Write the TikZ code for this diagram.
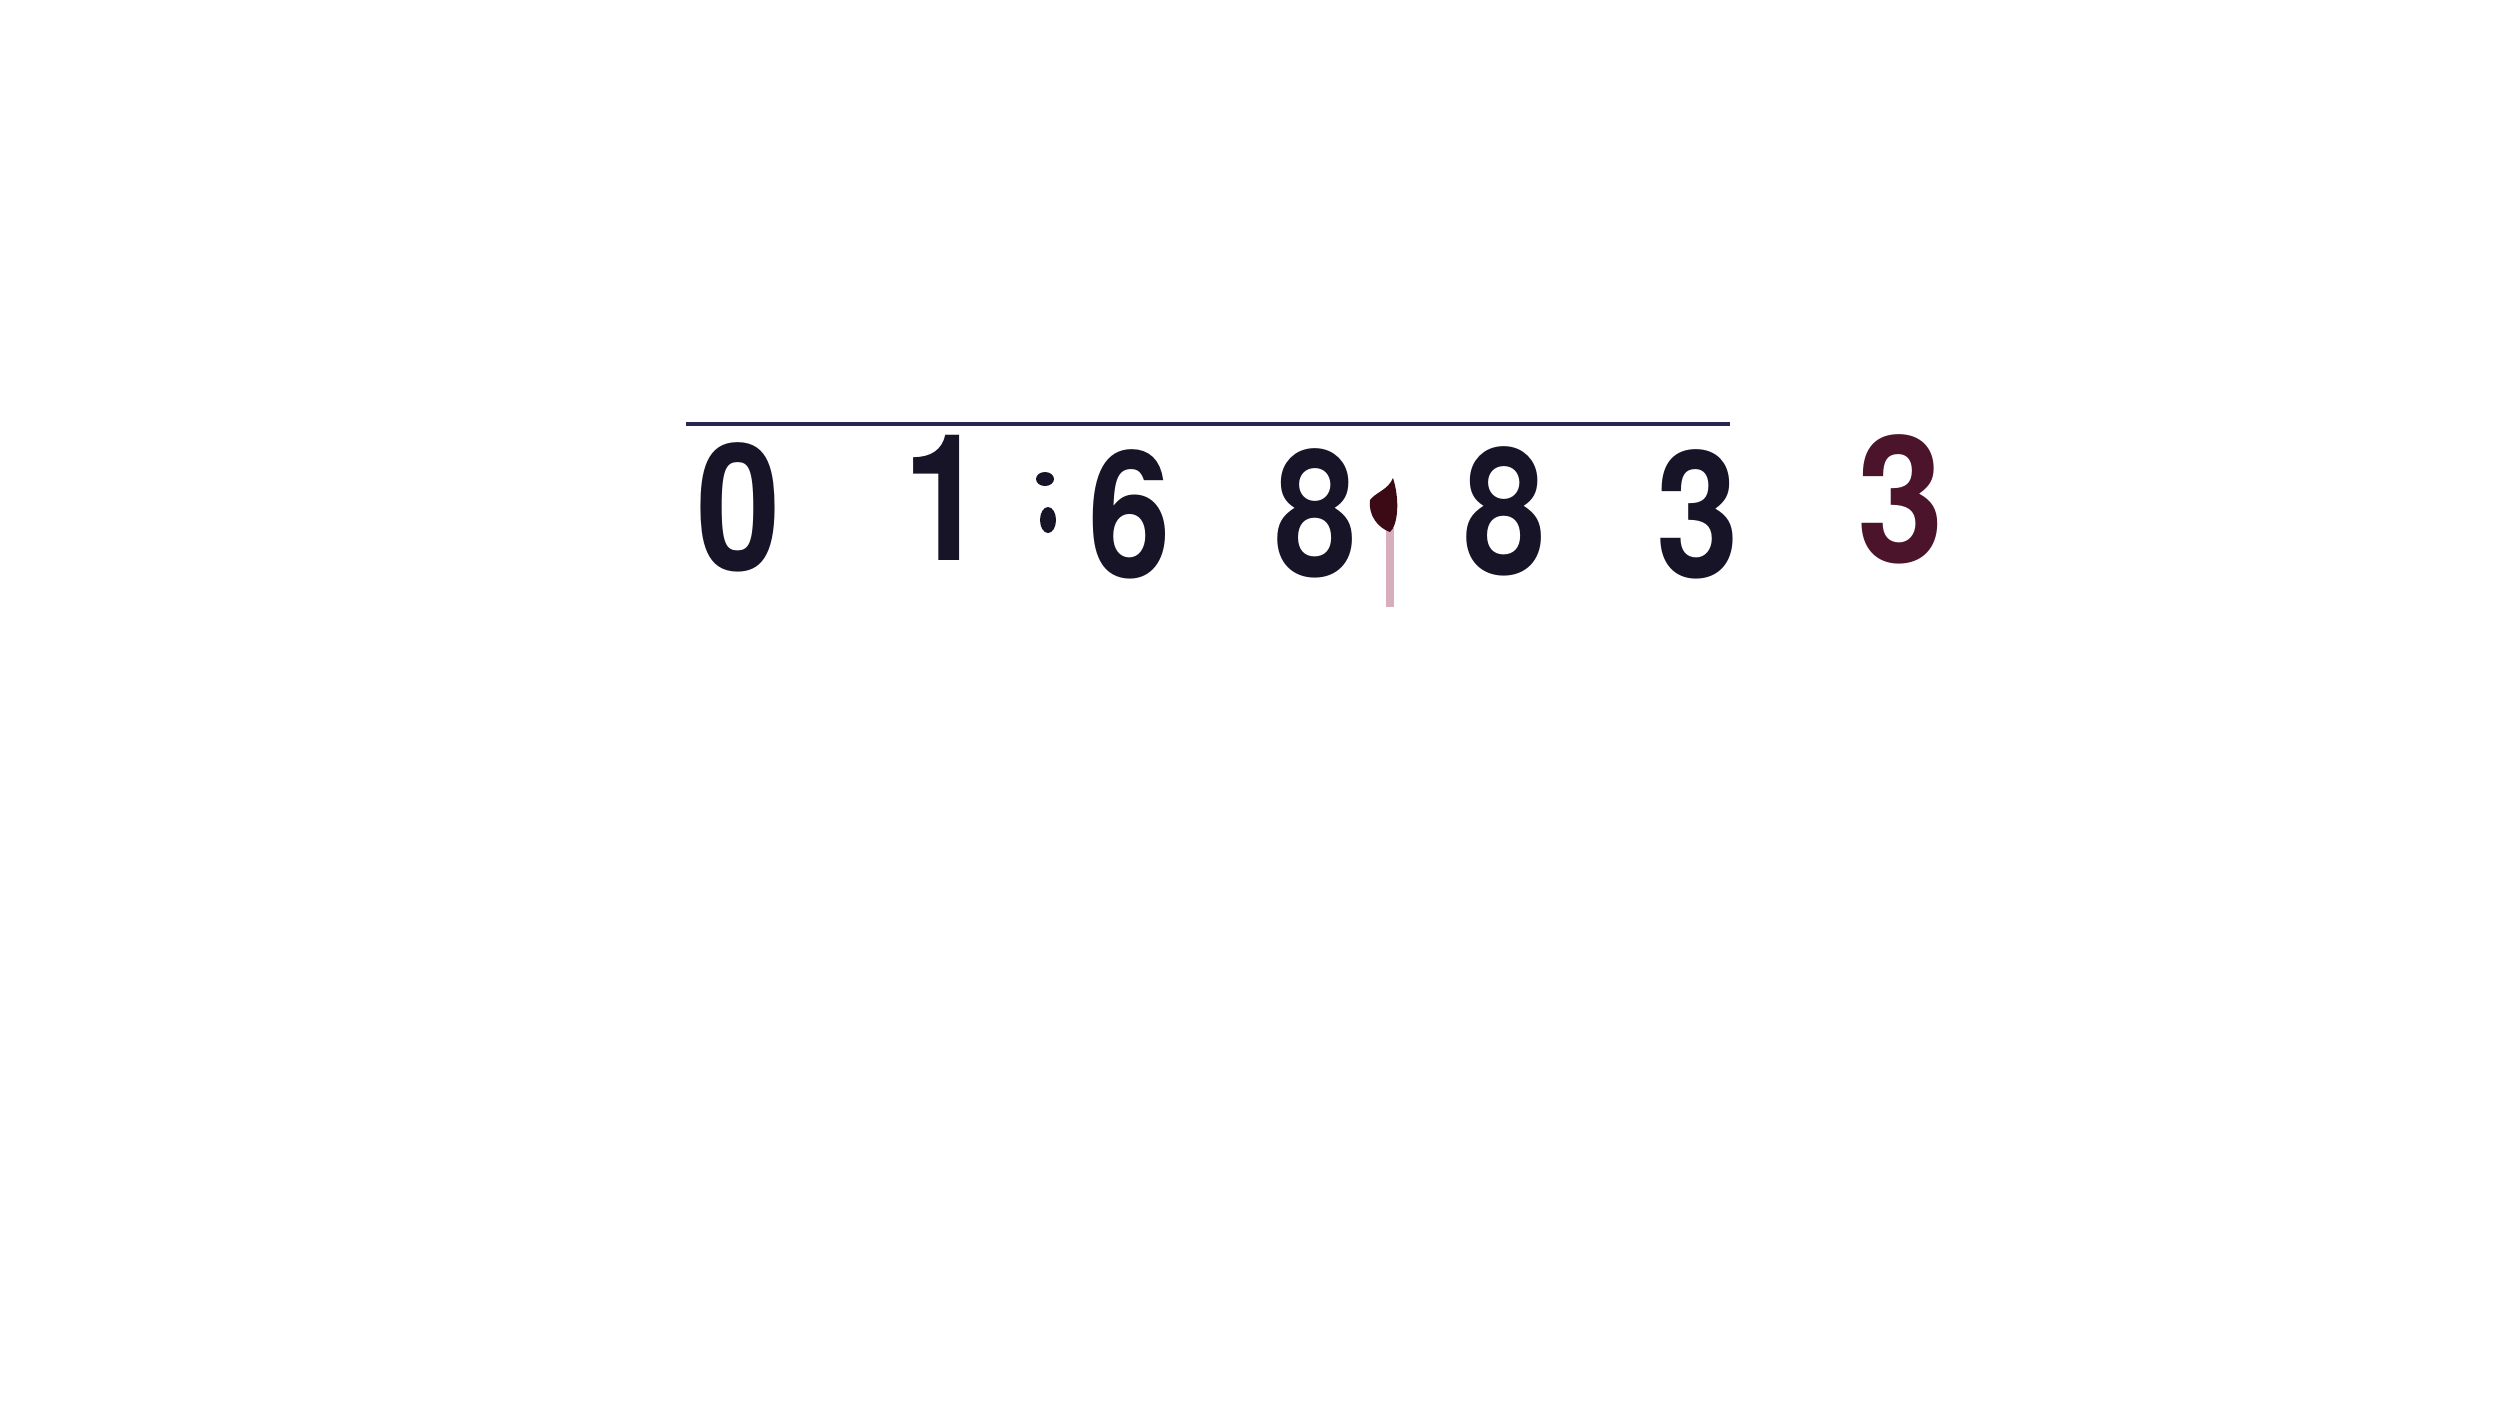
\documentclass[tikz,border=0pt]{standalone}
\usepackage{fontspec}
\setmainfont{TeX Gyre Heros}
\definecolor{ink}{RGB}{22,20,38}
\definecolor{inkred}{RGB}{75,20,42}
\definecolor{stain}{RGB}{60,10,20}
\definecolor{trail}{RGB}{215,175,188}
\definecolor{rule}{RGB}{40,40,80}
\begin{document}
\begin{tikzpicture}[x=0.3pt,y=-0.3pt,
  digit/.style={inner sep=0pt,text height=37.5pt,text depth=0pt,font=\fontsize{53}{53}\selectfont\bfseries,text=ink},
  dotmark/.style={fill=ink,draw=none}]
\useasboundingbox[fill=white] (0,0) rectangle (2500,1408);
\coordinate (ls) at (686,424);
\coordinate (le) at (1730,424);
\draw[rule,line width=1.3pt] (ls) -- (le);
\node[digit] (d0) at (739,508) {\scalebox{0.86}[1]{0}};
\node[digit] (d1) at (945,498) {\scalebox{0.84}[1]{1}};
\fill[dotmark] (1045,479) ellipse (9 and 7);
\fill[dotmark] (1048,520) ellipse (8 and 13);
\node[digit] (d2) at (1130,515) {\scalebox{0.84}[1]{6}};
\node[digit] (d3) at (1316,514) {\scalebox{0.84}[1]{8}};
\fill[trail] (1386,528) rectangle (1394,607);
\fill[stain] (1393,478) .. controls (1400,500) and (1398,525) .. (1390,532) .. controls (1378,528) and (1368,515) .. (1370,500) .. controls (1376,492) and (1388,490) .. (1393,478) -- cycle;
\node[digit] (d4) at (1505,512) {\scalebox{0.84}[1]{8}};
\node[digit] (d5) at (1698,515) {\scalebox{0.84}[1]{3}};
\node[digit,text=inkred] (d6) at (1901,500) {\scalebox{0.88}[1]{3}};
\end{tikzpicture}
\end{document}
